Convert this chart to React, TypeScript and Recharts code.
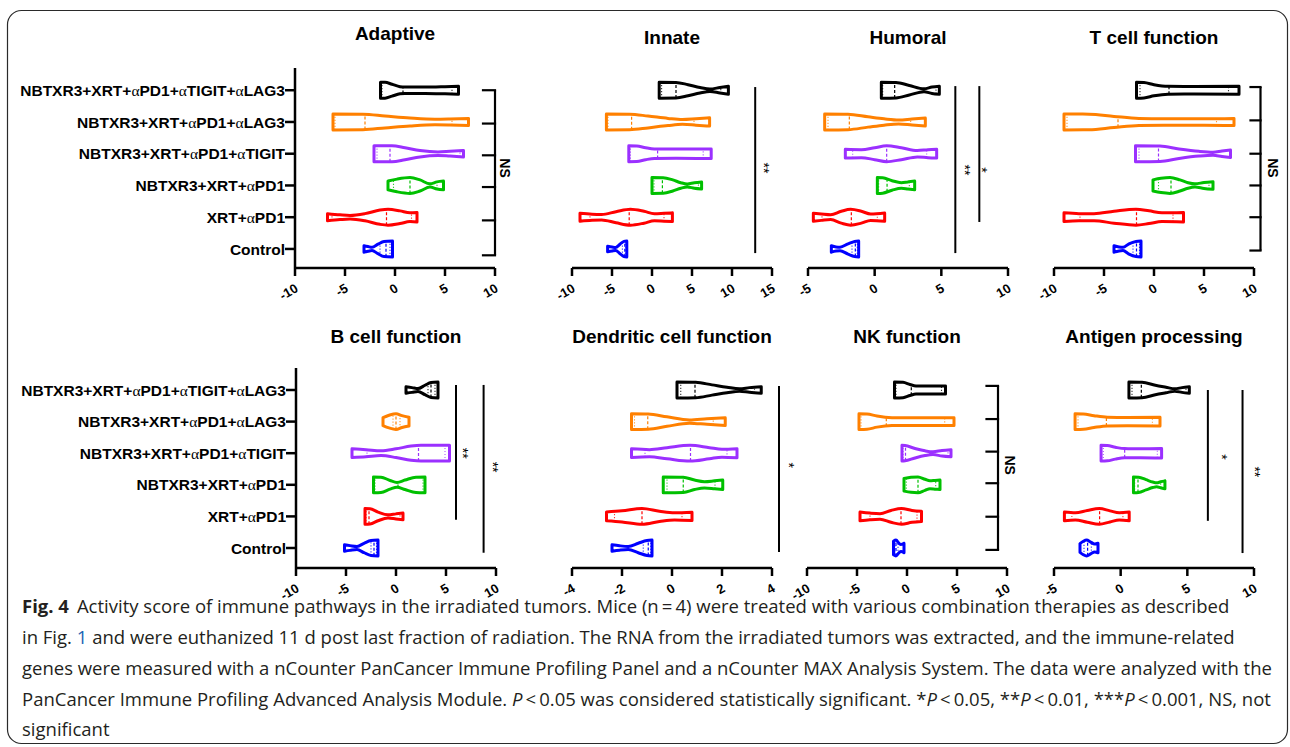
import React from 'react';
import { ComposedChart, Line, XAxis, YAxis, ReferenceLine, ReferenceDot } from 'recharts';

const FONT = '"Liberation Sans", Arial, Helvetica, sans-serif';
const CAPTION_FONT = '"Open Sans", "Noto Sans", sans-serif';

// ---------- categories ----------
const GROUPS = [
  'Control',
  'XRT+αPD1',
  'NBTXR3+XRT+αPD1',
  'NBTXR3+XRT+αPD1+αTIGIT',
  'NBTXR3+XRT+αPD1+αLAG3',
  'NBTXR3+XRT+αPD1+αTIGIT+αLAG3',
];
const GROUP_INDEX = [0, 1, 2, 3, 4, 5];
const COLORS = ['#0000ff', '#ff0000', '#00c000', '#9b30ff', '#ff8000', '#000000'];
const HALF = 0.25; // max half-width of a violin, in category units

type Knot = [number, number]; // [score, relative density]

// ---------- violin outlines (score, relative density) per group ----------
const adaptiveViolins: Knot[][] = [
  [[-3.1, 0.4], [-2.7, 0.3], [-2.3, 0.2], [-1.7, 0.6], [-1.1, 0.95], [-0.25, 1]],
  [[-6.75, 0.45], [-5.5, 0.3], [-4.5, 0.22], [-3, 0.45], [-1.5, 0.9], [-0.7, 1], [0.5, 0.8], [1.5, 0.55], [2.2, 0.6]],
  [[-0.7, 0.55], [0.2, 0.8], [1.5, 1], [2.5, 0.7], [3.5, 0.2], [4.2, 0.45], [4.85, 0.55]],
  [[-2.1, 1], [-0.3, 1], [1, 0.75], [2.5, 0.4], [4.3, 0.22], [5.5, 0.3], [6.85, 0.4]],
  [[-6.2, 1], [-3.2, 0.97], [-1, 0.75], [1.5, 0.5], [4, 0.35], [5.5, 0.38], [7.35, 0.45]],
  [[-1.45, 1], [-1, 1], [-0.3, 0.75], [0.5, 0.45], [1, 0.4], [3, 0.4], [5, 0.45], [6.35, 0.5]],
];
const innateViolins: Knot[][] = [
  [[-5.55, 0.35], [-5.0, 0.25], [-4.55, 0.18], [-4.0, 0.6], [-3.5, 0.95], [-3.15, 1]],
  [[-9, 0.5], [-7.5, 0.38], [-6.3, 0.35], [-4.5, 0.7], [-2.7, 1], [-1, 0.75], [0.3, 0.45], [1.5, 0.5], [2.55, 0.55]],
  [[0, 1], [1.4, 0.98], [2.6, 0.7], [3.6, 0.35], [4.4, 0.18], [5.3, 0.35], [6.2, 0.45]],
  [[-2.9, 1], [-1.9, 0.98], [-0.8, 0.75], [0.3, 0.6], [3, 0.58], [7.4, 0.6]],
  [[-5.7, 1], [-2.8, 0.98], [-0.5, 0.75], [2, 0.45], [3.8, 0.3], [5.5, 0.4], [7.2, 0.52]],
  [[0.9, 1], [3, 0.98], [4.5, 0.7], [6, 0.35], [7.25, 0.15], [8.5, 0.35], [9.55, 0.5]],
];
const humoralViolins: Knot[][] = [
  [[-3.25, 0.4], [-2.9, 0.25], [-2.6, 0.22], [-2.0, 0.65], [-1.5, 0.95], [-1.2, 1]],
  [[-4.6, 0.5], [-4, 0.4], [-3.3, 0.3], [-2.5, 0.75], [-1.8, 1], [-1, 0.75], [-0.3, 0.4], [0.75, 0.52]],
  [[0.2, 1], [0.6, 0.97], [1.3, 0.6], [2.0, 0.35], [2.5, 0.45], [3.0, 0.55]],
  [[-2.2, 0.55], [-1, 0.5], [0, 0.75], [0.9, 1], [2, 0.75], [3.2, 0.4], [4, 0.5], [4.65, 0.55]],
  [[-3.75, 1], [-2, 0.97], [-0.5, 0.65], [0.7, 0.4], [1.8, 0.25], [2.8, 0.38], [3.8, 0.5]],
  [[0.5, 1], [1.6, 0.97], [2.6, 0.6], [3.7, 0.18], [4.3, 0.4], [4.85, 0.5]],
];
const tcellViolins: Knot[][] = [
  [[-4, 0.4], [-3.5, 0.25], [-3.1, 0.2], [-2.5, 0.65], [-1.8, 0.95], [-1.3, 1]],
  [[-9, 0.55], [-7.5, 0.45], [-6, 0.45], [-4, 0.75], [-1.8, 1], [-0.5, 0.8], [0.8, 0.55], [2.95, 0.6]],
  [[-0.1, 0.7], [0.7, 0.9], [1.6, 1], [2.6, 0.7], [3.4, 0.35], [4.1, 0.2], [5, 0.38], [5.9, 0.48]],
  [[-1.85, 1], [0.6, 0.97], [2.5, 0.6], [4.5, 0.3], [5.9, 0.2], [6.8, 0.35], [7.65, 0.48]],
  [[-9, 1], [-6.5, 0.98], [-4, 0.7], [-1.5, 0.45], [1, 0.4], [5, 0.4], [8, 0.45]],
  [[-1.75, 1], [-1, 0.97], [0, 0.7], [1.4, 0.5], [4, 0.48], [8.5, 0.5]],
];
const bcellViolins: Knot[][] = [
  [[-5.15, 0.4], [-4.6, 0.3], [-3.9, 0.2], [-3.2, 0.6], [-2.5, 0.95], [-1.8, 1]],
  [[-3.1, 1], [-2.6, 0.97], [-1.8, 0.55], [-0.8, 0.2], [0, 0.32], [0.7, 0.42]],
  [[-2.25, 1], [-1.5, 0.97], [-0.6, 0.55], [0.1, 0.3], [0.9, 0.6], [2.0, 0.97], [2.9, 1]],
  [[-4.4, 0.55], [-3, 0.45], [-1.5, 0.3], [0, 0.55], [1.5, 0.9], [2.5, 1], [5.35, 1]],
  [[-1.3, 0.5], [-0.7, 0.8], [0, 1], [0.6, 0.75], [1.3, 0.55]],
  [[1.0, 0.4], [1.6, 0.3], [2.2, 0.18], [2.9, 0.6], [3.5, 0.95], [4.2, 1]],
];
const dendriticViolins: Knot[][] = [
  [[-2.4, 0.4], [-2.1, 0.28], [-1.75, 0.2], [-1.35, 0.6], [-1.0, 0.95], [-0.8, 1]],
  [[-2.62, 0.55], [-2.0, 0.7], [-1.2, 1], [-0.5, 0.65], [0.1, 0.45], [0.8, 0.52]],
  [[-0.35, 1], [0.45, 0.97], [0.9, 0.6], [1.3, 0.4], [1.7, 0.5], [2.03, 0.6]],
  [[-1.62, 0.55], [-0.9, 0.45], [-0.2, 0.7], [0.72, 1], [1.5, 0.7], [2.0, 0.5], [2.6, 0.57]],
  [[-1.62, 1], [-0.95, 0.97], [-0.2, 0.6], [0.7, 0.2], [1.4, 0.35], [2.13, 0.48]],
  [[0.2, 1], [0.95, 0.97], [1.6, 0.65], [2.2, 0.35], [2.7, 0.15], [3.1, 0.3], [3.57, 0.42]],
];
const nkViolins: Knot[][] = [
  [[-1.35, 0.85], [-1.1, 1], [-0.8, 0.6], [-0.6, 0.45], [-0.3, 0.6]],
  [[-4.7, 0.55], [-3.7, 0.42], [-2.7, 0.35], [-1.6, 0.75], [-0.55, 1], [0.5, 0.75], [1.45, 0.65]],
  [[-0.3, 0.8], [0.4, 0.95], [1.1, 1], [1.8, 0.7], [2.3, 0.5], [2.8, 0.55], [3.3, 0.6]],
  [[-0.5, 1], [-0.2, 0.97], [0.8, 0.6], [1.8, 0.3], [2.6, 0.18], [3.5, 0.35], [4.4, 0.45]],
  [[-4.8, 1], [-4.0, 0.97], [-3, 0.7], [-1.5, 0.5], [1, 0.48], [4.7, 0.5]],
  [[-1.25, 1], [-0.4, 0.97], [0.3, 0.7], [0.9, 0.52], [2.5, 0.5], [3.85, 0.52]],
];
const antigenViolins: Knot[][] = [
  [[-3.05, 0.55], [-2.8, 0.85], [-2.55, 1], [-2.25, 0.75], [-1.95, 0.5], [-1.7, 0.6]],
  [[-4.22, 0.55], [-3.4, 0.45], [-2.5, 0.75], [-1.6, 1], [-0.8, 0.7], [-0.1, 0.45], [0.64, 0.55]],
  [[0.96, 1], [1.35, 0.97], [1.9, 0.65], [2.4, 0.35], [2.7, 0.25], [3.0, 0.38], [3.32, 0.5]],
  [[-1.47, 1], [-1.0, 0.97], [-0.4, 0.75], [0.3, 0.58], [1.5, 0.57], [3.07, 0.6]],
  [[-3.42, 1], [-2.8, 0.97], [-2.0, 0.75], [-1.0, 0.55], [0.5, 0.52], [2.95, 0.55]],
  [[0.62, 1], [1.6, 0.97], [2.6, 0.6], [3.4, 0.35], [4.06, 0.15], [4.6, 0.3], [5.15, 0.42]],
];

// ---------- quartiles / median: [q1, dens, median, dens, q3, dens] ----------
const adaptiveStats = [
  [-1.5, 0.85, -0.9, 0.97, -0.5, 1], [-6.3, 0.4, -0.85, 1, 1.65, 0.56], [-0.15, 0.7, 1.5, 1, 4.2, 0.45],
  [-1.8, 1, -0.5, 1, 6.5, 0.38], [-6.0, 1, -3.0, 0.96, 5.7, 0.39], [-1.3, 1, 0.8, 0.42, 5.7, 0.47],
];
const innateStats = [
  [-3.7, 0.85, -3.4, 0.97, -3.25, 1], [-7.75, 0.4, -2.85, 1, 1.5, 0.5], [0.25, 1, 1.3, 0.98, 5.8, 0.4],
  [-2.7, 1, 0.7, 0.6, 6.4, 0.6], [-5.5, 1, -2.55, 0.97, 5.25, 0.39], [1.2, 1, 3.0, 0.98, 8.6, 0.37],
];
const humoralStats = [
  [-1.7, 0.85, -1.45, 0.96, -1.3, 1], [-3.95, 0.4, -1.75, 1, 0.2, 0.46], [0.3, 1, 0.93, 0.8, 2.6, 0.47],
  [-1.65, 0.52, 0.9, 1, 3.9, 0.49], [-3.5, 1, -1.9, 0.96, 2.7, 0.37], [0.6, 1, 1.5, 0.97, 4.6, 0.45],
];
const tcellStats = [
  [-2.1, 0.85, -1.75, 0.96, -1.45, 1], [-7.4, 0.45, -1.75, 1, 1.9, 0.57], [0.45, 0.85, 1.7, 1, 5.5, 0.44],
  [-1.5, 1, 0.45, 0.97, 6.2, 0.25], [-8.7, 1, -3.6, 0.65, 6.25, 0.42], [-1.4, 1, 1.5, 0.5, 7.45, 0.5],
];
const bcellStats = [
  [-2.5, 0.95, -2.2, 0.97, -1.95, 1], [-3.0, 1, -2.7, 0.98, 0.4, 0.38], [-2.1, 1, 0.2, 0.33, 2.7, 1],
  [-2.9, 0.45, 2.25, 1, 4.9, 1], [-0.3, 0.9, 0.0, 1, 0.4, 0.85], [3.2, 0.8, 3.5, 0.95, 3.9, 1],
];
const dendriticStats = [
  [-1.15, 0.85, -0.95, 0.96, -0.85, 1], [-2.3, 0.6, -1.2, 1, 0.4, 0.48], [-0.2, 1, 0.45, 0.97, 1.72, 0.5],
  [-1.08, 0.47, 0.74, 1, 2.2, 0.53], [-1.5, 1, -0.97, 0.97, 1.65, 0.4], [0.35, 1, 0.92, 0.97, 3.3, 0.36],
];
const nkStats = [
  [-1.2, 0.95, -1.1, 1, -0.9, 0.75], [-3.7, 0.42, -0.6, 1, 1.0, 0.68], [-0.07, 0.87, 1.1, 1, 2.87, 0.56],
  [-0.4, 1, -0.15, 0.96, 4.1, 0.42], [-4.6, 1, -2.07, 0.58, 3.77, 0.5], [-1.1, 1, 0.43, 0.65, 3.45, 0.51],
];
const antigenStats = [
  [-2.75, 0.88, -2.48, 0.97, -2.2, 0.72], [-3.66, 0.47, -1.58, 1, 0.17, 0.48], [1.05, 1, 1.3, 0.98, 3.0, 0.38],
  [-1.3, 1, 0.3, 0.58, 2.75, 0.59], [-3.2, 1, -1.07, 0.56, 2.38, 0.54], [0.85, 1, 1.55, 0.97, 4.9, 0.37],
];

// ---------- axes ----------
const adaptiveTicks = [-10, -5, 0, 5, 10];
const innateTicks = [-10, -5, 0, 5, 10, 15];
const humoralTicks = [-5, 0, 5, 10];
const tcellTicks = [-10, -5, 0, 5, 10];
const bcellTicks = [-10, -5, 0, 5, 10];
const dendriticTicks = [-4, -2, 0, 2, 4];
const nkTicks = [-10, -5, 0, 5, 10];
const antigenTicks = [-5, 0, 5, 10];

// ---------- significance annotations (data units) ----------
type Sig = { x: number; y1: number; y2: number };
type Bracket = { x: number; x0: number; ticks: number[] };
type Mark = { x: number; y: number; text: string };

const adaptiveBrackets: Bracket[] = [{ x: 10, x0: 8.8, ticks: [5.0, 3.95, 2.95, 1.95, 0.9, -0.2] }];
const adaptiveMarks: Mark[] = [{ x: 11.0, y: 2.55, text: 'NS' }];
const innateSig: Sig[] = [{ x: 12.9, y1: 5.1, y2: -0.13 }];
const innateMarks: Mark[] = [{ x: 14.5, y: 2.55, text: '**' }];
const humoralSig: Sig[] = [{ x: 6.05, y1: 5.13, y2: -0.13 }, { x: 7.85, y1: 5.13, y2: 0.85 }];
const humoralMarks: Mark[] = [{ x: 7.03, y: 2.49, text: '**' }, { x: 8.3, y: 2.49, text: '*' }];
const tcellBrackets: Bracket[] = [{ x: 10.65, x0: 9.65, ticks: [5.1, 4.05, 3.0, 2.0, 1.0, -0.05] }];
const tcellMarks: Mark[] = [{ x: 11.86, y: 2.55, text: 'NS' }];
const bcellSig: Sig[] = [{ x: 6.0, y1: 5.16, y2: 0.89 }, { x: 8.76, y1: 5.16, y2: -0.15 }];
const bcellMarks: Mark[] = [{ x: 7.1, y: 3.0, text: '**' }, { x: 10.1, y: 2.56, text: '**' }];
const dendriticSig: Sig[] = [{ x: 4.28, y1: 5.13, y2: -0.13 }];
const dendriticMarks: Mark[] = [{ x: 4.84, y: 2.62, text: '*' }];
const nkBrackets: Bracket[] = [{ x: 9.1, x0: 7.95, ticks: [5.13, 4.08, 3.05, 2.05, 0.99, -0.06] }];
const nkMarks: Mark[] = [{ x: 10.27, y: 2.62, text: 'NS' }];
const antigenSig: Sig[] = [{ x: 6.54, y1: 5.0, y2: 0.86 }, { x: 9.14, y1: 5.0, y2: -0.16 }];
const antigenMarks: Mark[] = [{ x: 7.9, y: 2.88, text: '*' }, { x: 10.38, y: 2.41, text: '**' }];

const TOP_Y: [number, number] = [-0.6, 5.7];
const BOT_Y: [number, number] = [-0.633, 5.696];

const PANELS = [
  { title: 'Adaptive', titleY: 40, plotX: 295, plotY: 68, yDomain: TOP_Y, xDomain: [-10, 10], xTicks: adaptiveTicks, showY: true, violins: adaptiveViolins, stats: adaptiveStats, sig: [] as Sig[], brackets: adaptiveBrackets, marks: adaptiveMarks },
  { title: 'Innate', titleY: 44, plotX: 572, plotY: 68, yDomain: TOP_Y, xDomain: [-10, 15], xTicks: innateTicks, showY: false, violins: innateViolins, stats: innateStats, sig: innateSig, brackets: [] as Bracket[], marks: innateMarks },
  { title: 'Humoral', titleY: 44, plotX: 808, plotY: 68, yDomain: TOP_Y, xDomain: [-5, 10], xTicks: humoralTicks, showY: false, violins: humoralViolins, stats: humoralStats, sig: humoralSig, brackets: [] as Bracket[], marks: humoralMarks },
  { title: 'T cell function', titleY: 44, plotX: 1054, plotY: 68, yDomain: TOP_Y, xDomain: [-10, 10], xTicks: tcellTicks, showY: false, violins: tcellViolins, stats: tcellStats, sig: [] as Sig[], brackets: tcellBrackets, marks: tcellMarks },
  { title: 'B cell function', titleY: 343, plotX: 296, plotY: 368, yDomain: BOT_Y, xDomain: [-10, 10], xTicks: bcellTicks, showY: true, violins: bcellViolins, stats: bcellStats, sig: bcellSig, brackets: [] as Bracket[], marks: bcellMarks },
  { title: 'Dendritic cell function', titleY: 343, plotX: 572, plotY: 368, yDomain: BOT_Y, xDomain: [-4, 4], xTicks: dendriticTicks, showY: false, violins: dendriticViolins, stats: dendriticStats, sig: dendriticSig, brackets: [] as Bracket[], marks: dendriticMarks },
  { title: 'NK function', titleY: 343, plotX: 807, plotY: 368, yDomain: BOT_Y, xDomain: [-10, 10], xTicks: nkTicks, showY: false, violins: nkViolins, stats: nkStats, sig: [] as Sig[], brackets: nkBrackets, marks: nkMarks },
  { title: 'Antigen processing', titleY: 343, plotX: 1054, plotY: 368, yDomain: BOT_Y, xDomain: [-5, 10], xTicks: antigenTicks, showY: false, violins: antigenViolins, stats: antigenStats, sig: antigenSig, brackets: [] as Bracket[], marks: antigenMarks },
];

// ---------- helpers that turn the data into series ----------
const outline = (knots: Knot[], i: number) => {
  const top = knots.map(([x, r]) => ({ x, y: i + HALF * r }));
  const bottom = knots.map(([x, r]) => ({ x, y: i - HALF * r }));
  const first = knots[0];
  const last = knots[knots.length - 1];
  return [
    ...top,
    { x: last[0], y: null },
    ...bottom,
    { x: last[0], y: null },
    { x: first[0], y: i - HALF * first[1] },
    { x: first[0], y: i + HALF * first[1] },
    { x: first[0], y: null },
    { x: last[0], y: i - HALF * last[1] },
    { x: last[0], y: i + HALF * last[1] },
  ];
};
const medianLine = (s: number[], i: number) => [
  { x: s[2], y: i - HALF * s[3] },
  { x: s[2], y: i + HALF * s[3] },
];
const quartileLines = (s: number[], i: number) => [
  { x: s[0], y: i - HALF * s[1] },
  { x: s[0], y: i + HALF * s[1] },
  { x: s[0], y: null },
  { x: s[4], y: i - HALF * s[5] },
  { x: s[4], y: i + HALF * s[5] },
];

const AXIS = { stroke: '#000', strokeWidth: 2.5 };

const XTick = (props: any) => {
  const { x, y, payload } = props;
  const ax = x + 4;
  const ay = y + 13;
  return (
    <text x={ax} y={ay} textAnchor="end" fontSize={13} fontWeight="bold" fontFamily={FONT} fill="#000"
      transform={`rotate(-30 ${ax} ${ay})`}>
      {payload.value}
    </text>
  );
};

const YTick = (props: any) => {
  const { x, y, payload } = props;
  const parts = GROUPS[payload.value].split(/(α)/);
  return (
    <text x={x} y={y} dy="0.36em" textAnchor="end" fontSize={15.5} fontWeight="bold" fontFamily={FONT} fill="#000">
      {parts.map((p, k) =>
        p === 'α' ? (
          <tspan key={k} fontWeight="normal" fontFamily='"Liberation Serif", serif'>α</tspan>
        ) : (
          <tspan key={k}>{p}</tspan>
        ),
      )}
    </text>
  );
};

const MarkText = ({ cx, cy, text }: { cx: number; cy: number; text: string }) => {
  const ns = text === 'NS';
  return (
    <text x={cx} y={cy} dy={ns ? '0.36em' : '0.62em'} textAnchor="middle" fontSize={14}
      fontWeight={ns ? 'bold' : 'normal'} fontFamily={FONT} fill="#000"
      transform={`rotate(90 ${cx} ${cy})`}>
      {text}
    </text>
  );
};

const MARGIN_TOP = 10;
const XAXIS_H = 45;

const Panel = ({ p }: { p: (typeof PANELS)[number] }) => {
  const leftM = p.showY ? 0 : 20;
  const yW = p.showY ? p.plotX : 0;
  const rightM = 60;
  const width = (p.showY ? p.plotX : leftM) + 200 + rightM;
  const height = MARGIN_TOP + 200 + XAXIS_H;
  const left = p.showY ? 0 : p.plotX - leftM;
  return (
    <div style={{ position: 'absolute', left, top: p.plotY - MARGIN_TOP, width, height }}>
      <ComposedChart width={width} height={height} margin={{ top: MARGIN_TOP, right: rightM, bottom: 0, left: leftM }}>
        <XAxis type="number" dataKey="x" domain={p.xDomain} ticks={p.xTicks} interval={0} allowDataOverflow
          tickSize={8} tickMargin={2} height={XAXIS_H} axisLine={AXIS} tickLine={AXIS} tick={<XTick />} />
        <YAxis type="number" dataKey="y" domain={p.yDomain} ticks={GROUP_INDEX} interval={0} allowDataOverflow
          hide={!p.showY} width={yW || 1} tickSize={10} tickMargin={0} axisLine={AXIS} tickLine={AXIS} tick={<YTick />} />
        {p.violins.map((k, i) => (
          <Line key={`v${i}`} data={outline(k, i)} dataKey="y" type="monotone" stroke={COLORS[i]} strokeWidth={3}
            strokeLinecap="round" strokeLinejoin="round" dot={false} activeDot={false} isAnimationActive={false} />
        ))}
        {p.stats.map((s, i) => (
          <Line key={`m${i}`} data={medianLine(s, i)} dataKey="y" type="linear" stroke={COLORS[i]} strokeWidth={1.2}
            strokeDasharray="3 2" dot={false} activeDot={false} isAnimationActive={false} />
        ))}
        {p.stats.map((s, i) => (
          <Line key={`q${i}`} data={quartileLines(s, i)} dataKey="y" type="linear" stroke={COLORS[i]} strokeWidth={1.1}
            strokeDasharray="1.2 1.8" strokeOpacity={0.8} dot={false} activeDot={false} isAnimationActive={false} />
        ))}
        {p.sig.map((s, k) => (
          <ReferenceLine key={`s${k}`} segment={[{ x: s.x, y: s.y1 }, { x: s.x, y: s.y2 }]} stroke="#000"
            strokeWidth={2} ifOverflow="visible" />
        ))}
        {p.brackets.map((b, k) => (
          <ReferenceLine key={`b${k}`} segment={[{ x: b.x, y: b.ticks[0] }, { x: b.x, y: b.ticks[b.ticks.length - 1] }]}
            stroke="#000" strokeWidth={2.2} ifOverflow="visible" />
        ))}
        {p.brackets.flatMap((b, k) =>
          b.ticks.map((t, j) => (
            <ReferenceLine key={`bt${k}-${j}`} segment={[{ x: b.x0, y: t }, { x: b.x, y: t }]} stroke="#000"
              strokeWidth={2.2} strokeLinecap="square" ifOverflow="visible" />
          )),
        )}
        {p.marks.map((m, k) => (
          <ReferenceDot key={`t${k}`} x={m.x} y={m.y} r={0} ifOverflow="visible"
            shape={(sp: any) => <MarkText cx={sp.cx} cy={sp.cy} text={m.text} />} />
        ))}
      </ComposedChart>
    </div>
  );
};

const CAPTION_X = 22;
const CAPTION_BASE = [613, 644, 675, 706, 736];
const LINK = '#1c64b4';

export default function App() {
  return (
    <div style={{ position: 'absolute', left: 0, top: 0, width: 1290, height: 747, overflow: 'hidden', background: '#fff' }}>
      <svg width={1290} height={747} style={{ position: 'absolute', left: 0, top: 0 }}>
        <rect x={7.5} y={10.5} width={1280} height={733} rx={14} ry={14} fill="none" stroke="#2a2a2a" strokeWidth={1.2} />
        {PANELS.map((p) => (
          <text key={p.title} x={p.plotX + 100} y={p.titleY} textAnchor="middle" fontSize={19} fontWeight="bold"
            fontFamily={FONT} fill="#000">
            {p.title}
          </text>
        ))}
        <g fontFamily={CAPTION_FONT} fontSize={18.5} fill="#231f20" style={{ whiteSpace: 'pre' }}>
          <text x={CAPTION_X} y={CAPTION_BASE[0]}>
            <tspan fontWeight="bold">Fig. 4</tspan>
            <tspan dx={8}>Activity score of immune pathways in the irradiated tumors. Mice (n{'\u2009'}={'\u2009'}4) were treated with various combination therapies as described</tspan>
          </text>
          <text x={CAPTION_X} y={CAPTION_BASE[1]}>
            <tspan>in Fig. </tspan>
            <tspan fill={LINK}>1</tspan>
            <tspan> and were euthanized 11 d post last fraction of radiation. The RNA from the irradiated tumors was extracted, and the immune-related</tspan>
          </text>
          <text x={CAPTION_X} y={CAPTION_BASE[2]}>
            genes were measured with a nCounter PanCancer Immune Profiling Panel and a nCounter MAX Analysis System. The data were analyzed with the
          </text>
          <text x={CAPTION_X} y={CAPTION_BASE[3]}>
            <tspan>PanCancer Immune Profiling Advanced Analysis Module. </tspan>
            <tspan fontStyle="italic">P</tspan>
            <tspan>{'\u2009<\u2009'}0.05 was considered statistically significant. *</tspan>
            <tspan fontStyle="italic">P</tspan>
            <tspan>{'\u2009<\u2009'}0.05, **</tspan>
            <tspan fontStyle="italic">P</tspan>
            <tspan>{'\u2009<\u2009'}0.01, ***</tspan>
            <tspan fontStyle="italic">P</tspan>
            <tspan>{'\u2009<\u2009'}0.001, NS, not</tspan>
          </text>
          <text x={CAPTION_X} y={CAPTION_BASE[4]}>significant</text>
        </g>
      </svg>
      {PANELS.map((p) => (
        <Panel key={p.title} p={p} />
      ))}
    </div>
  );
}
